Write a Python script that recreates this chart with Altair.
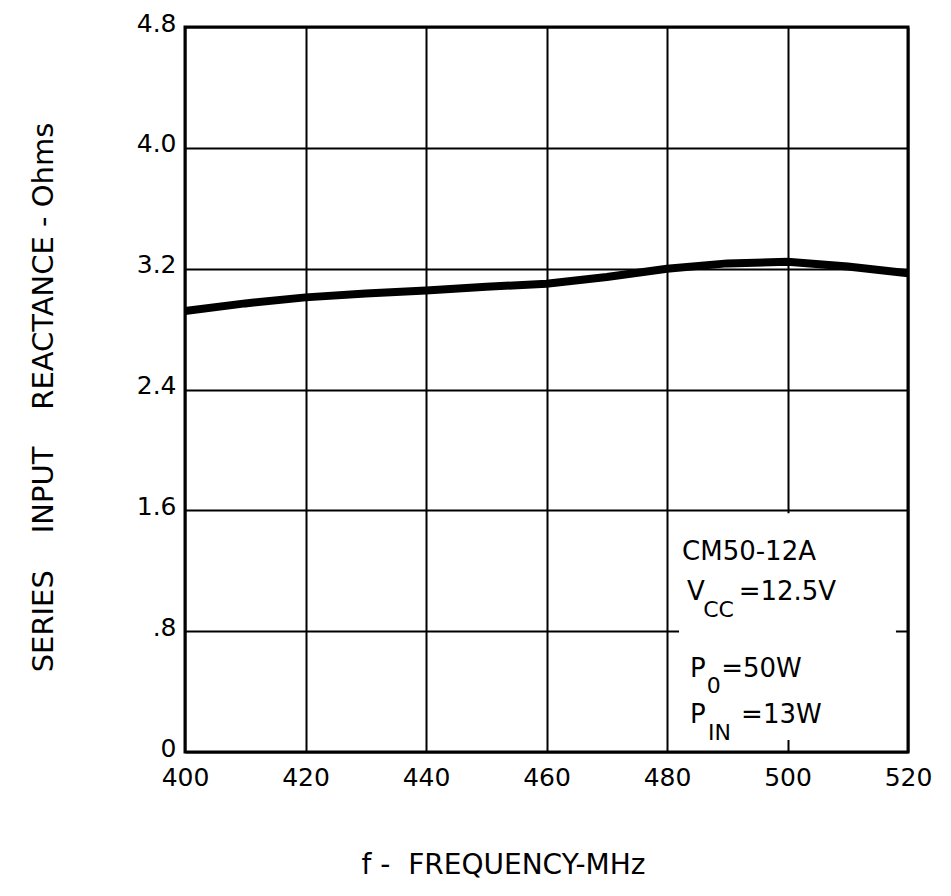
import altair as alt
import pandas as pd

# Curve data
freq_mhz = [400, 410, 420, 430, 440, 450, 460, 470, 480, 490, 500, 510, 520]
reactance_ohms = [2.92, 2.97, 3.01, 3.035, 3.055, 3.08, 3.10, 3.145, 3.20, 3.235, 3.245, 3.215, 3.17]

x_ticks = [400, 420, 440, 460, 480, 500, 520]
y_ticks = [0, 0.8, 1.6, 2.4, 3.2, 4.0, 4.8]

# Legend box area (blank region in the lower right of the grid)
box_x = [482, 518]
box_y = [0.08, 1.58]

# Annotation pieces: text, x (MHz), y (Ohms), font size
ann_text = ["CM50-12A", "V", "CC", "=12.5V", "P", "0", "=50W", "P", "IN", "=13W"]
ann_x = [482.5, 483.3, 486.0, 491.9, 483.8, 486.6, 489.0, 483.8, 486.8, 492.3]
ann_y = [1.27, 1.006, 0.894, 1.006, 0.497, 0.391, 0.497, 0.192, 0.079, 0.192]
ann_size = [26, 26, 22, 26, 26, 22, 26, 26, 22, 26]

FONT = "DejaVu Sans"

curve = pd.DataFrame({"f": freq_mhz, "x": reactance_ohms})
box = pd.DataFrame({"x0": [box_x[0]], "x1": [box_x[1]], "y0": [box_y[0]], "y1": [box_y[1]]})
ann = pd.DataFrame({"t": ann_text, "f": ann_x, "x": ann_y, "s": ann_size})

xscale = alt.Scale(domain=[400, 520], nice=False, zero=False)
yscale = alt.Scale(domain=[0, 4.8], nice=False)

nb = "\u00a0"
y_title = f"SERIES{nb*4}INPUT{nb*4}REACTANCE - Ohms"
x_title = f"f{nb}-{nb*2}FREQUENCY-MHz"

x_axis = alt.Axis(
    values=x_ticks, grid=True, gridColor="black", gridWidth=2, gridOpacity=1,
    ticks=False, domain=False, labelFont=FONT, labelFontSize=25, labelColor="black",
    labelPadding=13, labelFlush=False,
    title=x_title, titleFont=FONT, titleFontSize=28, titleFontWeight="normal",
    titleColor="black", titleX=318, titleY=121, titleAlign="center",
    titleBaseline="alphabetic", titleAnchor="middle",
)
y_axis = alt.Axis(
    values=y_ticks, grid=True, gridColor="black", gridWidth=2, gridOpacity=1,
    ticks=False, domain=False, labelFont=FONT, labelFontSize=25, labelColor="black",
    labelPadding=9, labelFlush=False, labelOffset=-4,
    labelExpr="datum.value == 0 ? '0' : (datum.value < 1 ? replace(format(datum.value, '.1f'), '0.', '.') : format(datum.value, '.1f'))",
    title=y_title, titleFont=FONT, titleFontSize=29, titleFontWeight="normal",
    titleColor="black", titleX=-133, titleY=370, titleAlign="center",
    titleBaseline="alphabetic", titleAngle=270, titleAnchor="middle",
)

base_line = alt.Chart(curve).mark_line(color="black", strokeWidth=8, strokeCap="butt").encode(
    x=alt.X("f:Q", scale=xscale, axis=x_axis),
    y=alt.Y("x:Q", scale=yscale, axis=y_axis),
)

blank = alt.Chart(box).mark_rect(color="white", opacity=1).encode(
    x=alt.X("x0:Q", scale=xscale), x2="x1:Q",
    y=alt.Y("y0:Q", scale=yscale), y2="y1:Q",
)

labels = alt.Chart(ann).mark_text(
    font=FONT, color="black", align="left", baseline="alphabetic"
).encode(
    x=alt.X("f:Q", scale=xscale),
    y=alt.Y("x:Q", scale=yscale),
    text="t:N",
    size=alt.Size("s:Q", scale=None, legend=None),
)

chart = alt.layer(base_line, blank, labels).properties(
    width=723, height=725,
    autosize=alt.AutoSizeParams(type="none"),
    padding={"left": 177, "top": 19, "right": 35, "bottom": 136},
    background="white",
).configure_view(stroke="black", strokeWidth=3)

chart.save("out.html", embed_options={"renderer": "svg", "actions": False})
